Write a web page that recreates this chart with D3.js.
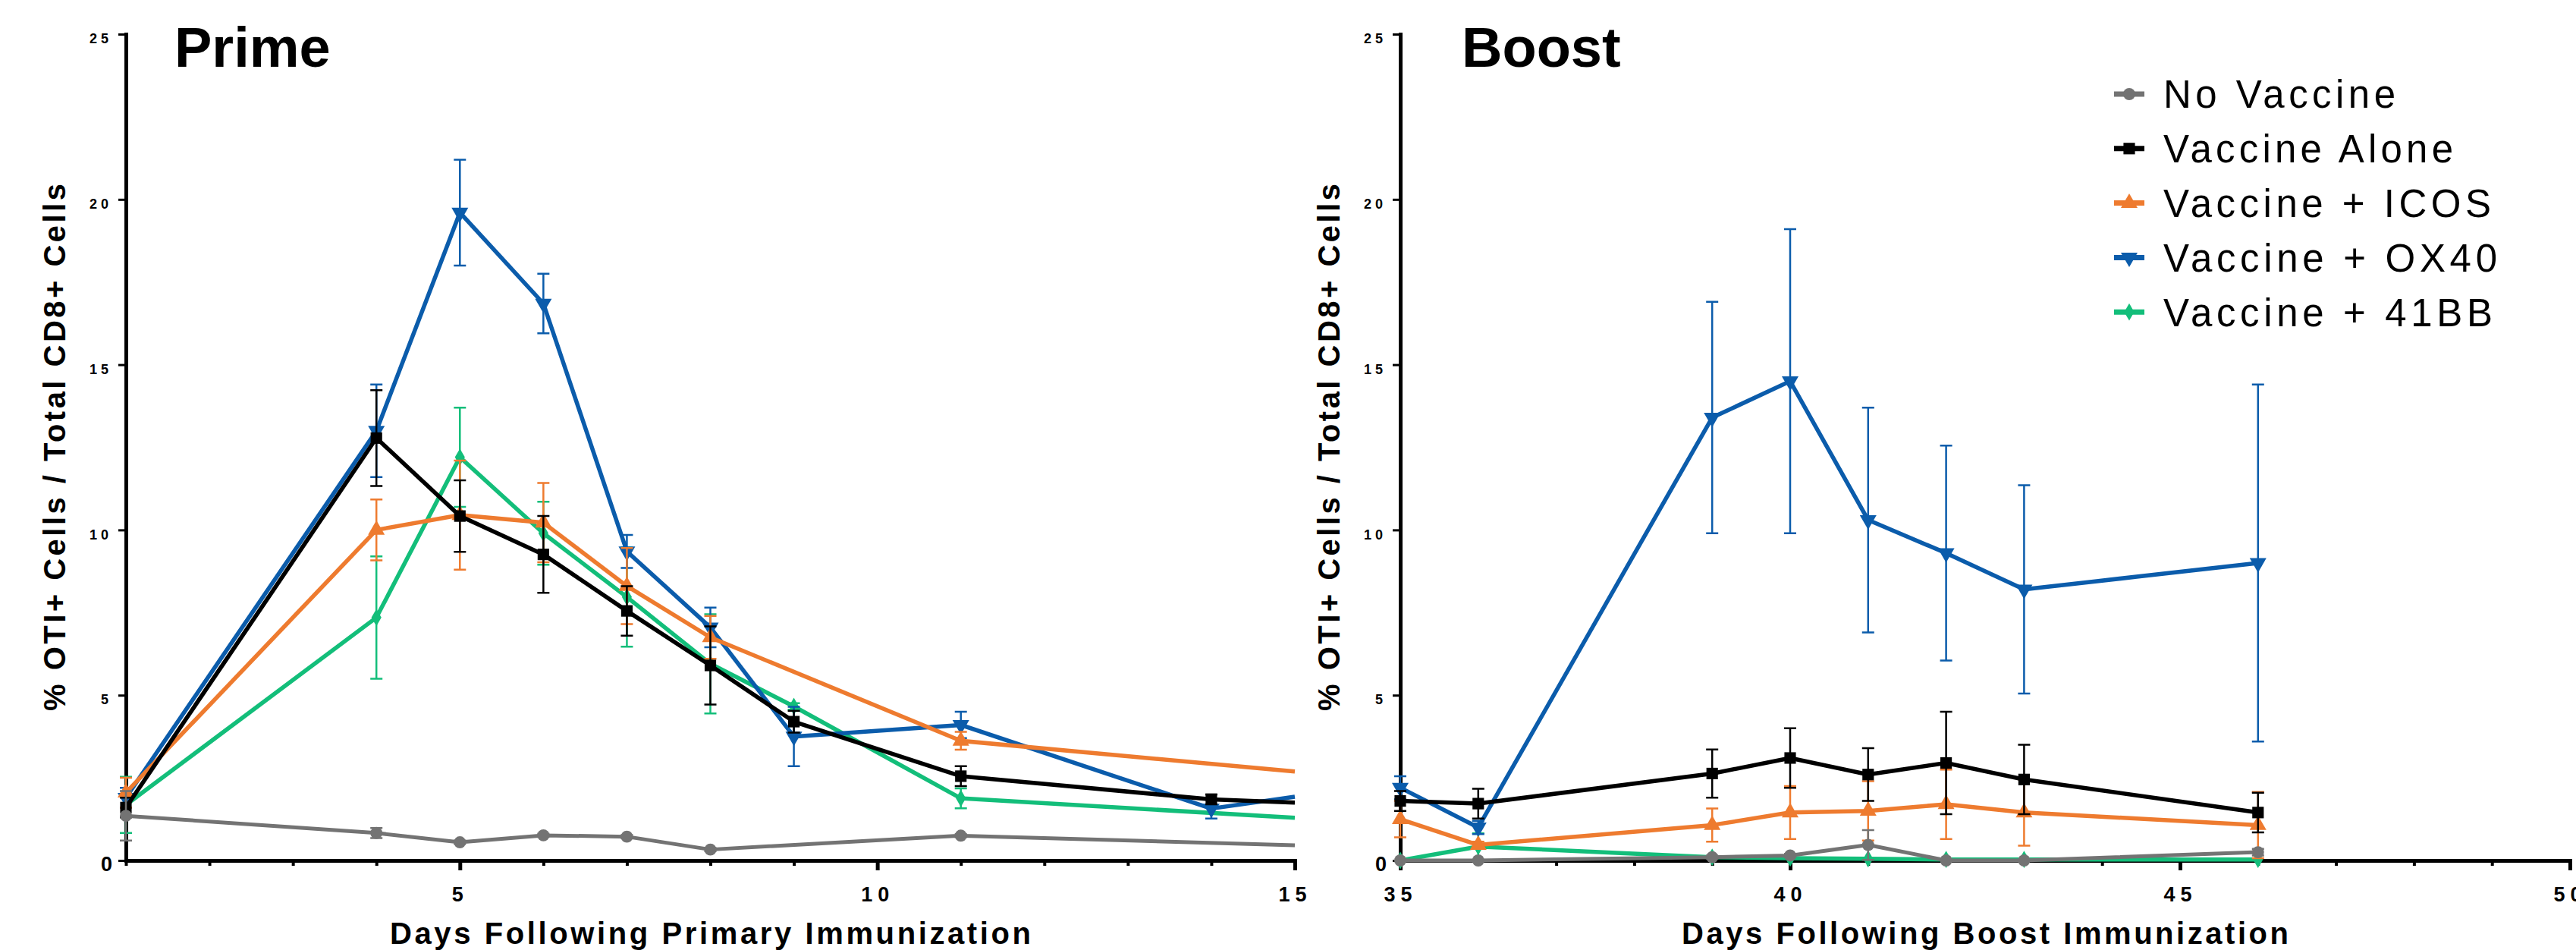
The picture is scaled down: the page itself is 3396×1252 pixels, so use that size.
<!DOCTYPE html>
<html>
<head>
<meta charset="utf-8">
<script src="https://cdn.jsdelivr.net/npm/d3@7"></script>
<style>
  body { margin: 0; background: #fff; }
  text { font-family: "Liberation Sans", Arial, Helvetica, sans-serif; fill: #000; }
</style>
</head>
<body>
<svg id="chart" width="3396" height="1252"></svg>
<script>
const groups = ["No Vaccine", "Vaccine Alone", "Vaccine + ICOS", "Vaccine + OX40", "Vaccine + 41BB"];
const colors = ["#737373", "#000000", "#ee7b2f", "#0b5cab", "#13be7a"];
const legendWidths = [306, 382, 432, 440, 434];

// prime phase, days after primary immunization (null = not measured)
const primeDays = [1, 4, 5, 6, 7, 8, 9, 11, 14, 15];
const primeNoVaccine = [1.35, 0.83, 0.55, 0.76, 0.72, 0.33, null, 0.75, null, 0.46];
const primeAlone = [1.6, 12.78, 10.42, 9.26, 7.55, 5.9, 4.2, 2.55, 1.85, 1.75];
const primeIcos = [2.05, 10.0, 10.45, 10.22, 8.3, 6.75, null, 3.62, null, 2.69];
const primeOx40 = [1.9, 13.0, 19.6, 16.85, 9.35, 7.05, 3.75, 4.1, 1.57, 1.93];
const prime41bb = [1.68, 7.35, 12.2, 9.9, 7.97, 5.95, 4.66, 1.88, null, 1.29];

const primeNoVaccineSem = [0.75, 0.15, 0.05, 0.05, 0.05, 0.05, null, 0.05, null, 0];
const primeAloneSem = [0.3, 1.45, 1.08, 1.16, 0.75, 1.18, 0.33, 0.3, 0.15, 0];
const primeIcosSem = [0.45, 0.92, 1.65, 1.2, 1.15, 0.65, null, 0.27, null, 0];
const primeOx40Sem = [0.3, 1.4, 1.6, 0.9, 0.5, 0.6, 0.9, 0.4, 0.3, 0];
const prime41bbSem = [0.85, 1.85, 1.5, 0.95, 1.5, 1.5, 0.1, 0.3, null, 0];

// boost phase, days after boost immunization
const boostDays = [35, 36, 39, 40, 41, 42, 43, 46];
const boostNoVaccine = [0, 0, 0.1, 0.15, 0.47, 0, 0, 0.25];
const boostAlone = [1.8, 1.72, 2.63, 3.1, 2.6, 2.95, 2.45, 1.45];
const boostIcos = [1.25, 0.47, 1.07, 1.45, 1.5, 1.7, 1.45, 1.07];
const boostOx40 = [2.2, 1.0, 13.4, 14.5, 10.3, 9.3, 8.2, 9.0];
const boost41bb = [0, 0.42, 0.1, 0.07, 0.05, 0.03, 0.03, 0.03];

const boostNoVaccineSem = [0, 0, 0.05, 0.05, 0.45, 0, 0, 0.1];
const boostAloneSem = [0.3, 0.45, 0.73, 0.9, 0.8, 1.55, 1.05, 0.6];
const boostIcosSem = [0.55, 0.1, 0.5, 0.8, 0.9, 1.05, 1.0, 1.0];
const boostOx40Sem = [0.35, 0.2, 3.5, 4.6, 3.4, 3.25, 3.15, 5.4];
const boost41bbSem = [0, 0.4, 0, 0, 0, 0, 0, 0];

const yTicks = [0, 5, 10, 15, 20, 25];
const yLabel = "% OTI+ Cells / Total CD8+ Cells";

const svg = d3.select("#chart");

const y = d3.scaleLinear().domain([0, 25]).range([1134, 45]);

const panels = [
  {
    title: "Prime", xTitle: "Days Following Primary Immunization",
    domain: [1, 15], range: [166, 1707], major: [5, 10, 15], titleX: 230,
    yTitleX: 72, xTitleLen: 845, days: primeDays,
    means: [primeNoVaccine, primeAlone, primeIcos, primeOx40, prime41bb],
    sems: [primeNoVaccineSem, primeAloneSem, primeIcosSem, primeOx40Sem, prime41bbSem]
  },
  {
    title: "Boost", xTitle: "Days Following Boost Immunization",
    domain: [35, 50], range: [1846, 3388], major: [35, 40, 45, 50], titleX: 1927,
    yTitleX: 1752, xTitleLen: 800, days: boostDays,
    means: [boostNoVaccine, boostAlone, boostIcos, boostOx40, boost41bb],
    sems: [boostNoVaccineSem, boostAloneSem, boostIcosSem, boostOx40Sem, boost41bbSem]
  }
];

function marker(i) {
  const types = [d3.symbolCircle, d3.symbolSquare, d3.symbolTriangle, d3.symbolTriangle, d3.symbolDiamond];
  const sizes = [200, 230, 210, 210, 150];
  return d3.symbol().type(types[i]).size(sizes[i])();
}

panels.forEach((p) => {
  const x = d3.scaleLinear().domain(p.domain).range(p.range);
  const g = svg.append("g");

  // minor ticks every day
  const minor = d3.range(p.domain[0], p.domain[1] + 1).filter((d) => !p.major.includes(d));
  g.append("g")
    .attr("transform", `translate(0,${y(0)})`)
    .call(d3.axisBottom(x).tickValues(minor).tickSize(7).tickSizeOuter(0).tickFormat(""))
    .call((a) => a.select(".domain").remove())
    .call((a) => a.selectAll("line").attr("stroke-width", 4));

  // major x axis
  const xa = g.append("g")
    .attr("transform", `translate(0,${y(0)})`)
    .call(d3.axisBottom(x).tickValues(p.major).tickSize(13).tickSizeOuter(0).tickPadding(22));
  xa.select(".domain").attr("stroke-width", 5).attr("stroke-linecap", "square");
  xa.selectAll("line").attr("stroke-width", 5);
  xa.selectAll("text")
    .attr("font-size", 27).attr("font-weight", "bold").attr("letter-spacing", 7);

  // y axis
  const ya = g.append("g")
    .attr("transform", `translate(${p.range[0]},0)`)
    .call(d3.axisLeft(y).tickValues(yTicks).tickSize(10).tickSizeOuter(0).tickPadding(8));
  ya.select(".domain").attr("stroke-width", 5).attr("stroke-linecap", "square");
  ya.selectAll("line").attr("stroke-width", 3);
  ya.selectAll("text")
    .attr("font-size", (d) => (d === 0 ? 27 : 18))
    .attr("font-weight", "bold").attr("letter-spacing", (d) => (d === 0 ? 0 : 5))
    .attr("dy", (d) => (d === 0 ? "0.5em" : "0.65em"));

  // axis titles
  g.append("text")
    .attr("x", (p.range[0] + p.range[1]) / 2).attr("y", 1244)
    .attr("text-anchor", "middle").attr("font-size", 40).attr("font-weight", "bold")
    .attr("textLength", p.xTitleLen).attr("lengthAdjust", "spacing")
    .text(p.xTitle);

  g.append("text")
    .attr("transform", `translate(${p.yTitleX + 14},${(y(0) + y(25)) / 2}) rotate(-90)`)
    .attr("text-anchor", "middle").attr("font-size", 40).attr("font-weight", "bold")
    .attr("textLength", 695).attr("lengthAdjust", "spacing")
    .text(yLabel);

  g.append("text")
    .attr("x", p.titleX).attr("y", 88)
    .attr("font-size", 74).attr("font-weight", "bold")
    .text(p.title);

  // series, last group drawn first so the control sits on top
  d3.range(groups.length).reverse().forEach((si) => {
    const pts = p.days
      .map((d, k) => ({ day: d, v: p.means[si][k], e: p.sems[si][k] }))
      .filter((d) => d.v !== null);
    const sg = g.append("g");

    sg.selectAll(".err")
      .data(pts.filter((d) => d.e > 0))
      .join("path")
      .attr("fill", "none").attr("stroke", colors[si]).attr("stroke-width", 2.5)
      .attr("d", (d) => {
        const cx = x(d.day), t = y(d.v + d.e), b = y(Math.max(0, d.v - d.e));
        return `M${cx - 8},${t}H${cx + 8}M${cx},${t}V${b}M${cx - 8},${b}H${cx + 8}`;
      });

    sg.append("path")
      .datum(pts)
      .attr("fill", "none").attr("stroke", colors[si])
      .attr("stroke-width", si === 0 ? 5 : 5.5).attr("stroke-linejoin", "round")
      .attr("d", d3.line().x((d) => x(d.day)).y((d) => y(d.v)));

    sg.selectAll(".pt")
      .data(pts.filter((d) => d.day < p.domain[1]))
      .join("path")
      .attr("fill", colors[si])
      .attr("transform", (d) => `translate(${x(d.day)},${y(d.v)})${si === 3 ? " rotate(180)" : ""}`)
      .attr("d", marker(si));
  });
});

// legend in the boost panel
const legend = svg.append("g").attr("transform", "translate(2787,124)");
groups.forEach((name, i) => {
  const row = legend.append("g").attr("transform", `translate(0,${i * 71.8})`);
  row.append("line")
    .attr("x1", 0).attr("x2", 40).attr("y1", 0).attr("y2", 0)
    .attr("stroke", colors[i]).attr("stroke-width", 7);
  row.append("path")
    .attr("fill", colors[i])
    .attr("transform", `translate(20,0)${i === 3 ? " rotate(180)" : ""}`)
    .attr("d", marker(i));
  row.append("text")
    .attr("x", 65).attr("y", 0).attr("dy", "0.36em")
    .attr("font-size", 51)
    .attr("textLength", legendWidths[i]).attr("lengthAdjust", "spacing")
    .text(name);
});
</script>
</body>
</html>
